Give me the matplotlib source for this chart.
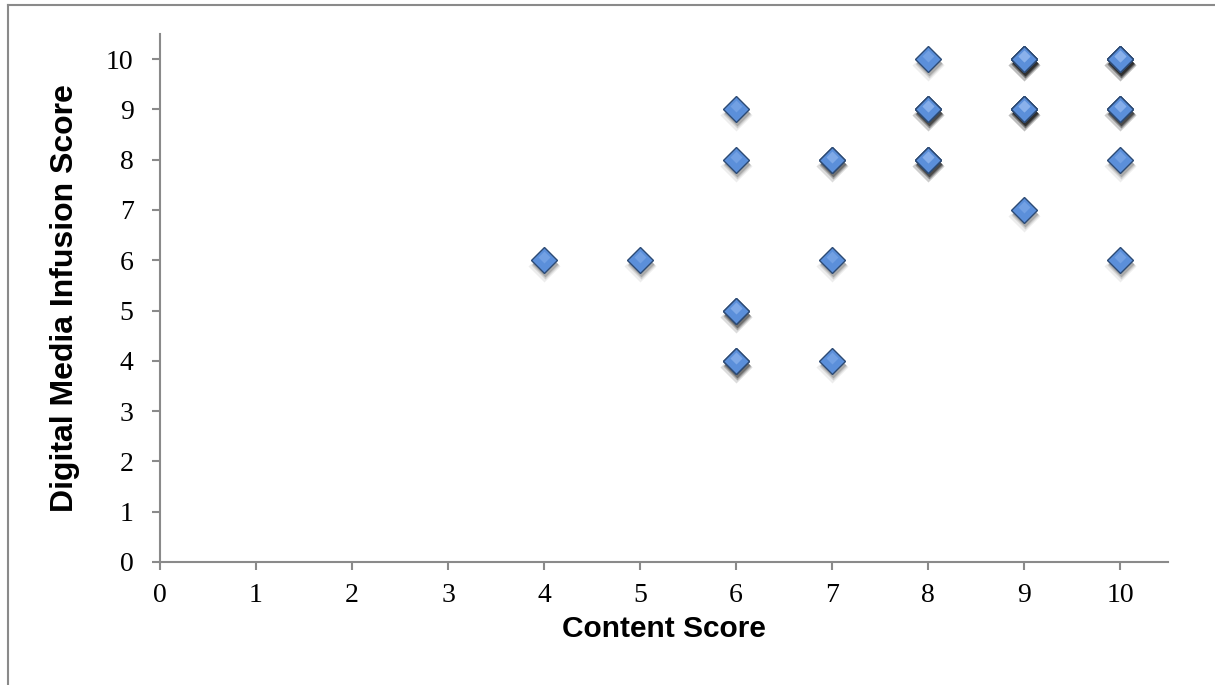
"""
Content score vs digital media infusion score, one diamond per student.
Repeated score pairs are listed more than once; the stacked shadows
get darker where several students share a point.
"""
import matplotlib
matplotlib.use("Agg")
import matplotlib.pyplot as plt
from matplotlib.transforms import offset_copy

content_score = [
    4, 5,
    6, 6, 6, 6, 6, 6,
    7, 7, 7, 7,
    8, 8, 8, 8, 8, 8, 8,
    9, 9, 9, 9, 9, 9, 9, 9, 9,
    10, 10, 10, 10, 10, 10, 10, 10, 10,
]
media_score = [
    6, 6,
    9, 8, 5, 5, 4, 4,
    8, 8, 6, 4,
    10, 9, 9, 9, 8, 8, 8,
    10, 10, 10, 10, 9, 9, 9, 9, 7,
    10, 10, 10, 10, 9, 9, 9, 8, 6,
]

x_ticks = list(range(0, 11))
y_ticks = list(range(0, 11))

AXIS_GREY = "#8a8a8a"
FACE = "#5b8fda"
EDGE = "#2c4a74"

fig = plt.figure(figsize=(12.15, 6.85), dpi=100)
ax = fig.add_axes([0.1317, 0.1796, 0.8296, 0.7708])

# frame of the original slide (only left and top edges are visible)
fig.add_artist(plt.Line2D([0.0066, 0.0066], [0.0, 0.9927], transform=fig.transFigure,
                          color=AXIS_GREY, lw=1.5))
fig.add_artist(plt.Line2D([0.0066, 1.0], [0.9927, 0.9927], transform=fig.transFigure,
                          color=AXIS_GREY, lw=1.5))

# soft drop shadow: a few offset layers under the markers
for dx, dy, ms, a in [(0, -6, 16, 0.07), (1, -5, 14.5, 0.12), (1, -4, 13, 0.18)]:
    shadow_tr = offset_copy(ax.transData, fig=fig, x=dx, y=dy, units="dots")
    ax.plot(content_score, media_score, "D", ms=ms, color="black", alpha=a,
            mec="none", ls="none", transform=shadow_tr, zorder=2)

ax.plot(content_score, media_score, "D", ms=13.5, mfc=FACE, mec=EDGE, mew=1.0,
        ls="none", zorder=3)
# lighter top half for a bit of the glossy look
hi_tr = offset_copy(ax.transData, fig=fig, x=0, y=3, units="dots")
ax.plot(content_score, media_score, "D", ms=6, mfc="#8fb6ee", mec="none",
        alpha=0.45, ls="none", transform=hi_tr, zorder=4)

ax.set_xlim(0, 10.5)
ax.set_ylim(0, 10.5)
ax.set_xticks(x_ticks)
ax.set_yticks(y_ticks)
ax.set_xticklabels([str(t) for t in x_ticks], family="Liberation Serif", fontsize=20)
ax.set_yticklabels([str(t) for t in y_ticks], family="Liberation Serif", fontsize=20)
ax.tick_params(direction="out", length=6, width=1.5, color=AXIS_GREY)
ax.tick_params(axis="x", pad=9)
ax.tick_params(axis="y", pad=13)

for side in ("top", "right"):
    ax.spines[side].set_visible(False)
for side in ("left", "bottom"):
    ax.spines[side].set_color(AXIS_GREY)
    ax.spines[side].set_linewidth(1.5)

ax.set_xlabel("Content Score", family="Liberation Sans", fontweight="bold",
              fontsize=21.5, labelpad=5)
ax.set_ylabel("Digital Media Infusion Score", family="Liberation Sans",
              fontweight="bold", fontsize=23, labelpad=19)

fig.savefig("out.png", dpi=100)
